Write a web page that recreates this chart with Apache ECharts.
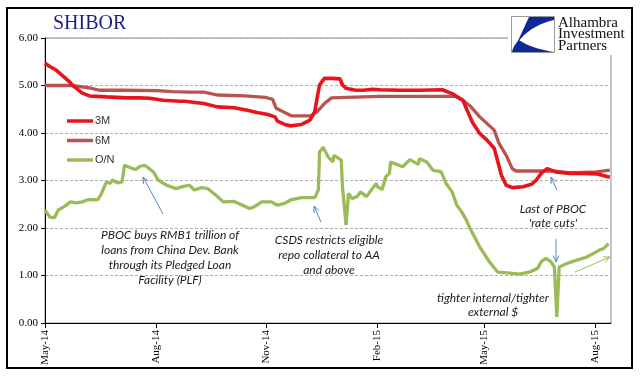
<!DOCTYPE html>
<html><head><meta charset="utf-8">
<script src="https://cdn.jsdelivr.net/npm/echarts@6/dist/echarts.min.js"></script>
<style>html,body{margin:0;padding:0;background:#fff}#c{width:641px;height:379px}</style>
</head><body><div id="c"></div>
<script>
// ---- data ----
const d3M = ['2014-05-01','2014-05-05','2014-05-10','2014-05-15','2014-05-20','2014-05-25','2014-06-01','2014-06-07','2014-06-21','2014-07-08','2014-07-19','2014-07-27','2014-08-07','2014-08-21','2014-08-25','2014-09-10','2014-09-21','2014-10-05','2014-10-16','2014-10-24','2014-11-02','2014-11-08','2014-11-10','2014-11-16','2014-11-21','2014-11-30','2014-12-07','2014-12-11','2014-12-13','2014-12-15','2014-12-19','2014-12-25','2015-01-01','2015-01-03','2015-01-06','2015-01-14','2015-01-20','2015-01-28','2015-02-03','2015-02-19','2015-03-08','2015-03-27','2015-04-04','2015-04-13','2015-04-17','2015-04-21','2015-04-27','2015-05-03','2015-05-09','2015-05-12','2015-05-15','2015-05-19','2015-05-24','2015-06-02','2015-06-09','2015-06-13','2015-06-17','2015-06-22','2015-06-29','2015-07-11','2015-07-22','2015-08-02','2015-08-13'];
const v3M = [5.47,5.40,5.33,5.22,5.11,4.98,4.84,4.78,4.76,4.74,4.74,4.73,4.69,4.67,4.67,4.62,4.55,4.53,4.48,4.43,4.39,4.34,4.25,4.18,4.15,4.18,4.27,4.45,4.74,5.01,5.15,5.15,5.14,5.01,4.94,4.90,4.90,4.92,4.91,4.90,4.90,4.91,4.83,4.69,4.45,4.22,3.99,3.85,3.68,3.40,3.11,2.90,2.85,2.87,2.92,3.01,3.15,3.25,3.18,3.15,3.15,3.14,3.07];

const d6M = ['2014-05-01','2014-05-23','2014-06-07','2014-06-15','2014-07-05','2014-08-02','2014-08-15','2014-08-29','2014-09-10','2014-09-21','2014-10-14','2014-10-31','2014-11-06','2014-11-09','2014-11-16','2014-11-22','2014-12-08','2014-12-13','2014-12-19','2014-12-25','2015-01-06','2015-01-20','2015-02-03','2015-04-07','2015-04-13','2015-04-19','2015-04-27','2015-05-09','2015-05-13','2015-05-19','2015-05-24','2015-05-27','2015-06-27','2015-07-11','2015-08-02','2015-08-13'];
const v6M = [5.00,5.00,4.95,4.90,4.90,4.89,4.87,4.86,4.86,4.80,4.78,4.75,4.71,4.52,4.43,4.36,4.36,4.45,4.62,4.74,4.75,4.76,4.77,4.77,4.69,4.57,4.34,4.06,3.78,3.53,3.25,3.20,3.20,3.16,3.18,3.22];

const dON = ['2014-05-01','2014-05-05','2014-05-09','2014-05-12','2014-05-17','2014-05-22','2014-05-27','2014-06-01','2014-06-05','2014-06-14','2014-06-17','2014-06-21','2014-06-24','2014-06-26','2014-06-30','2014-07-04','2014-07-06','2014-07-11','2014-07-15','2014-07-19','2014-07-23','2014-07-30','2014-08-03','2014-08-10','2014-08-18','2014-08-23','2014-08-29','2014-09-02','2014-09-08','2014-09-13','2014-09-20','2014-09-26','2014-10-05','2014-10-12','2014-10-18','2014-10-22','2014-10-28','2014-11-05','2014-11-10','2014-11-16','2014-11-21','2014-11-30','2014-12-11','2014-12-14','2014-12-15','2014-12-18','2014-12-22','2014-12-26','2014-12-27','2015-01-02','2015-01-03','2015-01-06','2015-01-08','2015-01-11','2015-01-15','2015-01-18','2015-01-23','2015-01-31','2015-02-01','2015-02-05','2015-02-08','2015-02-11','2015-02-12','2015-02-22','2015-02-28','2015-03-07','2015-03-08','2015-03-14','2015-03-19','2015-03-26','2015-03-30','2015-04-04','2015-04-08','2015-04-12','2015-04-16','2015-04-19','2015-04-27','2015-05-05','2015-05-12','2015-05-22','2015-05-30','2015-06-07','2015-06-14','2015-06-17','2015-06-21','2015-06-25','2015-06-28','2015-06-30','2015-07-02','2015-07-08','2015-07-16','2015-07-25','2015-08-04','2015-08-08','2015-08-12'];
const vON = [2.38,2.23,2.22,2.38,2.45,2.55,2.53,2.55,2.59,2.60,2.73,2.97,2.94,3.01,2.95,2.97,3.32,3.27,3.23,3.30,3.32,3.18,3.01,2.90,2.83,2.87,2.90,2.80,2.85,2.83,2.69,2.55,2.56,2.48,2.41,2.45,2.55,2.55,2.48,2.52,2.59,2.64,2.64,2.80,3.60,3.70,3.50,3.39,3.53,3.43,2.87,2.06,2.73,2.62,2.66,2.76,2.66,2.94,2.87,2.81,3.08,3.15,3.39,3.29,3.44,3.34,3.46,3.39,3.22,3.18,2.94,2.76,2.48,2.34,2.16,1.99,1.60,1.29,1.07,1.05,1.03,1.07,1.15,1.29,1.36,1.29,1.18,0.13,1.18,1.25,1.32,1.39,1.53,1.57,1.67];

const tickDates = ['2014-05-01','2014-08-01','2014-11-01','2015-02-01','2015-05-01','2015-08-01'];
const tickLabels = ['May-14','Aug-14','Nov-14','Feb-15','May-15','Aug-15'];
const endDate = '2015-08-14';

// ---- helpers ----
const t0 = Date.UTC(2014,4,1);
function day(s){const p=s.split('-');return Math.round((Date.UTC(+p[0],+p[1]-1,+p[2])-t0)/86400000);}
function pairs(ds,vs){return ds.map((d,i)=>[day(d),vs[i]]);}
const tickDays = tickDates.map(day);
const labelMap = {}; tickDays.forEach((d,i)=>labelMap[d]=tickLabels[i]);

function arrow(x1,y1,x2,y2,color){
  const a=Math.atan2(y2-y1,x2-x1), L=7, w=0.42;
  const h1=[x2-L*Math.cos(a-w), y2-L*Math.sin(a-w)];
  const h2=[x2-L*Math.cos(a+w), y2-L*Math.sin(a+w)];
  return [
    {type:'line',shape:{x1,y1,x2,y2},style:{stroke:color,lineWidth:1},z:100},
    {type:'polyline',shape:{points:[h1,[x2,y2],h2]},style:{stroke:color,lineWidth:1,fill:null},z:100}
  ];
}
function quad(p0,c,p1,n){const pts=[];for(let i=0;i<=n;i++){const t=i/n,u=1-t;pts.push([u*u*p0[0]+2*u*t*c[0]+t*t*p1[0],u*u*p0[1]+2*u*t*c[1]+t*t*p1[1]]);}return pts;}
const annFont = 'italic 12px Lato, "Noto Sans", sans-serif';
function ann(x,y,text,lh){
  return {type:'text',x,y,z:100,style:{text,font:annFont,fill:'#1a1a1a',align:'center',verticalAlign:'top',lineHeight:lh}};
}
const logoTop = [[529,17],[554,17],[554,20]].concat(quad([554,20],[528,26],[516,45],10));
const logoBot = [[512,52],[554,52]].concat(quad([554,52],[530,48],[519,40],10)).concat(quad([519,40],[513,46],[512,52],5));

const chart = echarts.init(document.getElementById('c'),null,{renderer:'canvas'});
const blue='#5a86bf';
chart.setOption({
  animation:false,
  backgroundColor:'#fff',
  grid:{left:45,right:30,top:38,bottom:56,show:true,borderColor:'#8c8c8c',borderWidth:1,backgroundColor:'transparent'},
  xAxis:{type:'value',min:0,max:day(endDate),
    axisLine:{show:true,onZero:false,lineStyle:{color:'#000',width:1}},
    axisTick:{show:true,customValues:tickDays,length:5,inside:false,lineStyle:{color:'#000'}},
    axisLabel:{customValues:tickDays,rotate:90,margin:7,fontFamily:'"Liberation Serif", serif',fontSize:11,color:'#000',
      formatter:v=>labelMap[v]||''},
    splitLine:{show:false}},
  yAxis:{type:'value',min:0,max:6,interval:1,
    axisLine:{show:true,lineStyle:{color:'#000',width:1}},
    axisTick:{show:true,length:4,lineStyle:{color:'#000'}},
    axisLabel:{margin:7,fontFamily:'"Liberation Serif", serif',fontSize:11,color:'#000',formatter:v=>v.toFixed(2)},
    splitLine:{show:true,lineStyle:{color:'#b0b0b0',type:[3,2],width:1}}},
  legend:{orient:'vertical',left:62,top:109,icon:'rect',itemWidth:26,itemHeight:3.5,itemGap:5.5,
    textStyle:{fontFamily:'"Liberation Sans", Arial, sans-serif',fontSize:11,color:'#333',lineHeight:14,padding:[0,0,0,-3]},
    data:['3M','6M','O/N']},
  series:[
    {name:'3M',type:'line',data:pairs(d3M,v3M),symbol:'none',lineStyle:{color:'#e8141b',width:3.6},itemStyle:{color:'#e8141b'},z:4},
    {name:'6M',type:'line',data:pairs(d6M,v6M),symbol:'none',lineStyle:{color:'#b85450',width:3.3},itemStyle:{color:'#b85450'},z:3},
    {name:'O/N',type:'line',data:pairs(dON,vON),symbol:'none',lineStyle:{color:'#9bbb59',width:3.3},itemStyle:{color:'#9bbb59'},z:2}
  ],
  graphic:[
    {type:'rect',shape:{x:7,y:8,width:625,height:360},style:{stroke:'#000',lineWidth:2,fill:null},z:50},
    {type:'text',x:53,y:24,style:{text:'SHIBOR',font:'20px "Liberation Serif", serif',fill:'#1f1f7d',verticalAlign:'middle'},z:60},
    {type:'rect',shape:{x:508,y:12,width:121,height:43},style:{fill:'#fff'},z:60},
    {type:'rect',shape:{x:511.5,y:16.5,width:43,height:36},style:{fill:'#fff',stroke:'#9a9a9a',lineWidth:1},z:61},
    {type:'polygon',shape:{points:logoTop},style:{fill:'#0c2a96'},z:62},
    {type:'polygon',shape:{points:logoBot},style:{fill:'#0c2a96'},z:62},
    {type:'text',x:558,y:23,style:{text:'Alhambra',font:'15px "Liberation Serif", serif',fill:'#111',verticalAlign:'middle'},z:62},
    {type:'text',x:558,y:34.5,style:{text:'Investment',font:'15px "Liberation Serif", serif',fill:'#111',verticalAlign:'middle'},z:62},
    {type:'text',x:558,y:46,style:{text:'Partners',font:'15px "Liberation Serif", serif',fill:'#111',verticalAlign:'middle'},z:62},
    ann(170,228,'PBOC buys RMB1 trillion of\nloans from China Dev. Bank\nthrough its Pledged Loan\nFacility (PLF)',15),
    ann(329,232.5,'CSDS restricts eligible\nrepo collateral to AA\nand above',15),
    ann(553,202,'Last of PBOC\n\'rate cuts\'',14.3),
    ann(493,291,'tighter internal/tighter\nexternal $',14.4),
    ...arrow(163,214,143,177,blue),
    ...arrow(321,222,314,206,blue),
    ...arrow(556,239,556,262,blue),
    ...arrow(557,190,551,177,blue),
    ...arrow(575,272,610,257,'#9bbb59')
  ]
});
</script></body></html>
